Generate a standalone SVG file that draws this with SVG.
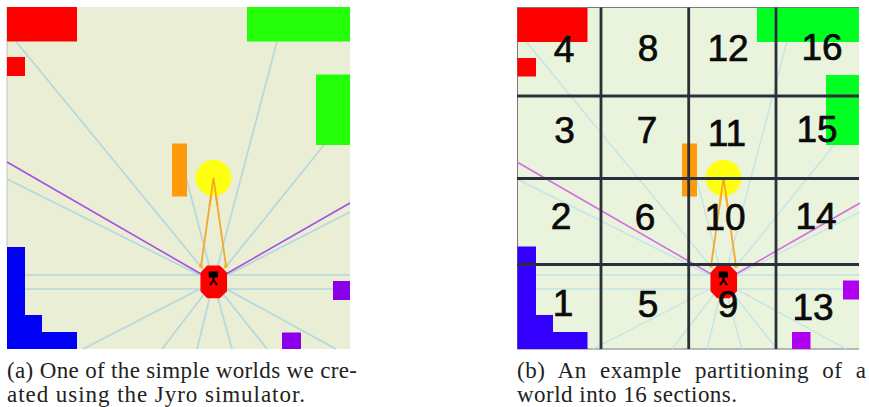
<svg xmlns="http://www.w3.org/2000/svg" width="869" height="407" viewBox="0 0 869 407">
  <style>
    .a { --ray: #b4d8dc; --view: #a64fe0; --ray-w: 1.7; }
    .b { --ray: #c4e4e8; --view: #d070e0; --ray-w: 1.4; }
    .ray { fill: none; stroke: var(--ray); stroke-width: var(--ray-w); }
    .view { fill: none; stroke: var(--view); stroke-width: 1.6; }
    .aim { fill: none; stroke: #f4a92c; stroke-width: 1.8; }
    .dot { fill: #f8b418; }
    .wall-red, .bot { fill: #ff0000; }
    .bot { stroke: #ff0000; stroke-width: 1.5; stroke-linejoin: round; }
    .a .wall-green { fill: #22ff08; }
    .b .wall-green { fill: #00ff22; }
    .a .wall-blue { fill: #0000f4; }
    .b .wall-blue { fill: #3300ff; }
    .a .block { fill: #8a00e8; }
    .b .block { fill: #b000f0; }
    .a .floor { fill: #e9eed5; }
    .b .floor { fill: #eaf3dc; }
    .post { fill: #ff9a0a; }
    .lamp { fill: #ffff10; }
    .grid { stroke: #2b2f3b; stroke-width: 2.8; fill: none; }
    .num { font: 37px "Liberation Sans", Arial, sans-serif; fill: #0a0a0a; stroke: #0a0a0a; stroke-width: 0.7; text-anchor: middle; }
    .cap { font: 23px "Liberation Serif", "Times New Roman", serif; fill: #222; }
  </style>
  <defs>
    <!-- sensor rays and robot, shared by both worlds -->
    <g id="rays">
      <path class="ray" d="M213.5 282L16 41.5M213.5 282L186 177M213.5 282L277 41.5M213.5 282L324 145M213.5 282L7 179M213.5 282L350 212M25 275H350M25 289H333M213.5 282L83 349M213.5 282L162 349M213.5 282L197 349M213.5 282L232 349M213.5 282L267 349M213.5 282L336 349"/>
      <path class="view" d="M7 162L201 274M350 203L226 274"/>
      <path class="aim" d="M201 266L213.5 178L226 266"/>
      <circle class="dot" cx="201" cy="266" r="2"/>
      <circle class="dot" cx="226" cy="266" r="2"/>
    </g>
    <g id="bot">
      <path class="bot" d="M207.500 266.200H219.500L226.300 273V291L219.500 297.500H207.500L201.200 291V273Z"/>
      <rect x="208.700" y="271.500" width="9.300" height="6" fill="#000"/>
      <path d="M213.500 277V280M213.500 280L210 285M213.500 280L217 285" fill="none" stroke="#000" stroke-width="2"/>
    </g>
  </defs>

  <g id="world-a" class="a">
    <rect class="floor" x="7" y="7" width="343" height="342"/>
    <path d="M7 7V247" stroke="#c4c6bc" stroke-width="1" fill="none"/>
    <use href="#rays"/>
    <rect class="wall-red" x="7" y="7" width="70" height="34.500"/>
    <rect class="wall-red" x="7" y="57" width="18" height="19"/>
    <rect class="wall-green" x="247" y="7" width="103" height="34.500"/>
    <rect class="wall-green" x="316" y="74.500" width="34" height="70.500"/>
    <rect class="post" x="172" y="143.500" width="15" height="53"/>
    <circle class="lamp" cx="213.500" cy="178" r="18"/>
    <path class="aim" d="M209.500 206L213.500 178L217.500 206"/>
    <path class="wall-blue" d="M7 247H25V315H42V332H77V349H7Z"/>
    <rect class="block" x="333" y="281" width="17" height="19"/>
    <rect class="block" x="282" y="332.500" width="19" height="16.500"/>
    <use href="#bot"/>
  </g>

  <g id="world-b" class="b">
    <rect class="floor" x="517" y="7.500" width="342" height="341.500"/>
    <path d="M517.500 7V349M517 7.500H859M517 349H859" stroke="#77797a" stroke-width="1" fill="none"/>
    <g transform="translate(510 0)"><use href="#rays"/></g>
    <rect class="wall-red" x="517.500" y="8" width="70" height="34"/>
    <rect class="wall-red" x="517.500" y="58" width="18.500" height="18.500"/>
    <rect class="wall-green" x="757" y="8" width="102" height="34"/>
    <rect class="wall-green" x="826" y="75" width="33" height="70"/>
    <rect class="post" x="682" y="143.500" width="15" height="53"/>
    <circle class="lamp" cx="723.500" cy="178" r="18"/>
    <path class="aim" d="M719.500 206L723.500 178L727.500 206"/>
    <path class="wall-blue" d="M517.500 246.500H536V315H553V332H587.500V349H517.500Z"/>
    <rect class="block" x="843" y="280.500" width="16" height="19"/>
    <rect class="block" x="792" y="332" width="18.500" height="17"/>
    <g transform="translate(510 0)"><use href="#bot"/></g>

    <path class="grid" d="M601 7.500V349M688.700 7.500V349M776 7.500V349M517 96H859M517 178.500H859M517 264.500H859"/>

    <g id="section-labels">
      <text class="num" x="564" y="62">4</text>
      <text class="num" x="648" y="61">8</text>
      <text class="num" x="728" y="61">12</text>
      <text class="num" x="822" y="60">16</text>
      <text class="num" x="564.500" y="143">3</text>
      <text class="num" x="647" y="143">7</text>
      <text class="num" x="727" y="146">11</text>
      <text class="num" x="817" y="142">15</text>
      <text class="num" x="561" y="229">2</text>
      <text class="num" x="645" y="230">6</text>
      <text class="num" x="725" y="229.500">10</text>
      <text class="num" x="816" y="229">14</text>
      <text class="num" x="563" y="316">1</text>
      <text class="num" x="648" y="317">5</text>
      <text class="num" x="728" y="317">9</text>
      <text class="num" x="813" y="320">13</text>
    </g>
  </g>

  <g id="captions">
    <text class="cap" x="7" y="378" textLength="350" lengthAdjust="spacing">(a) One of the simple worlds we cre-</text>
    <text class="cap" x="7" y="402" textLength="298" lengthAdjust="spacing">ated using the Jyro simulator.</text>
    <text class="cap" x="517" y="378" word-spacing="7" textLength="349" lengthAdjust="spacing">(b) An example partitioning of a</text>
    <text class="cap" x="517" y="402" textLength="220" lengthAdjust="spacing">world into 16 sections.</text>
  </g>
</svg>
